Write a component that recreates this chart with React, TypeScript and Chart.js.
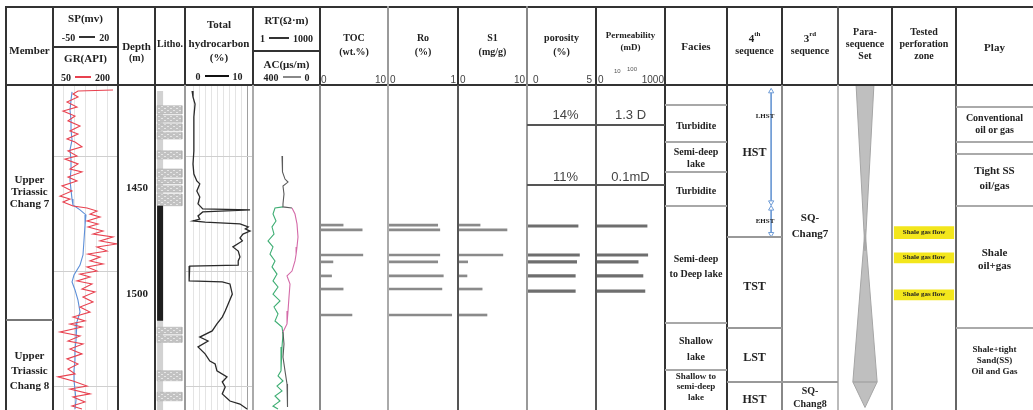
import React, { useEffect, useRef } from "react";
import { Chart, registerables } from "chart.js";

Chart.register(...registerables);

// ---------- depth frame (m) ----------
const DEPTH_TOP = 1407.4;
const DEPTH_BASE = 1548.7;
const DEPTH_TICKS = [1450, 1500];
const DEPTH_GRID = [1438.3, 1488.3, 1538.3];

// ---------- GR (API) ----------
const GR_DEPTH = [1409.6, 1410.0, 1411.3, 1412.6, 1414.8, 1417.0, 1418.7, 1420.9, 1423.0, 1425.2, 1427.4, 1428.7, 1430.9, 1432.2, 1434.3, 1436.1, 1438.3, 1439.6, 1441.7, 1443.9, 1445.2, 1447.4, 1449.1, 1451.3, 1453.5, 1455.7, 1457.0, 1458.3, 1460.0, 1460.9, 1462.2, 1463.5, 1464.8, 1466.5, 1467.8, 1469.1, 1470.9, 1472.2, 1473.5, 1475.2, 1476.5, 1477.8, 1479.6, 1480.9, 1482.2, 1483.9, 1485.2, 1486.5, 1488.3, 1489.6, 1490.9, 1492.6, 1493.9, 1496.1, 1497.4, 1499.6, 1501.7, 1503.9, 1506.1, 1508.3, 1510.0, 1511.3, 1512.6, 1514.8, 1516.5, 1518.7, 1520.0, 1522.2, 1524.3, 1526.5, 1528.7, 1530.9, 1533.0, 1534.3, 1536.1, 1538.3, 1539.6, 1541.7, 1543.0, 1545.2, 1547.0, 1548.3];
const GR_API = [188.5, 107.7, 96.2, 107.7, 82.3, 105.4, 73.1, 100.8, 84.6, 112.3, 89.2, 107.7, 82.3, 100.8, 116.9, 84.6, 105.4, 77.7, 107.7, 89.2, 116.9, 84.6, 105.4, 70.8, 93.8, 66.2, 89.2, 73.1, 96.2, 128.5, 151.5, 135.4, 158.5, 128.5, 153.8, 130.8, 165.4, 142.3, 188.5, 158.5, 197.7, 151.5, 174.6, 130.8, 158.5, 135.4, 165.4, 128.5, 151.5, 112.3, 135.4, 105.4, 140.0, 116.9, 146.9, 119.2, 142.3, 112.3, 135.4, 96.2, 123.8, 89.2, 116.9, 66.2, 112.3, 84.6, 119.2, 89.2, 116.9, 82.3, 107.7, 84.6, 100.8, 61.5, 96.2, 128.5, 89.2, 135.4, 96.2, 123.8, 93.8, 116.9];

// ---------- SP (mV) ----------
const SP_DEPTH = [1410.4, 1414.0, 1418.3, 1422.6, 1427.0, 1431.3, 1435.7, 1440.0, 1444.3, 1448.7, 1453.0, 1457.0, 1459.6, 1461.7, 1463.9, 1468.3, 1474.8, 1481.3, 1485.7, 1490.0, 1493.0, 1496.5, 1500.9, 1506.1, 1510.4, 1514.8, 1518.3, 1522.6, 1527.0, 1531.3, 1535.7, 1540.0, 1544.3, 1548.3];
const SP_MV = [-29.5, -30.6, -31.7, -30.6, -30.6, -29.5, -31.7, -30.6, -30.6, -31.7, -30.6, -29.5, -28.5, -20.9, -14.5, -15.5, -16.6, -17.7, -20.9, -27.4, -29.5, -26.3, -23.1, -20.9, -24.2, -25.2, -25.2, -26.3, -26.3, -27.4, -27.4, -26.3, -25.2, -26.3];

// ---------- total hydrocarbon (%) ----------
const TH_DEPTH = [1410.0, 1412.6, 1415.7, 1421.3, 1428.7, 1436.1, 1441.7, 1446.1, 1449.1, 1450.4, 1453.5, 1456.1, 1459.1, 1461.3, 1461.7, 1462.6, 1464.3, 1465.7, 1466.5, 1467.0, 1467.8, 1469.1, 1470.0, 1470.9, 1472.2, 1473.9, 1475.2, 1477.8, 1479.6, 1482.2, 1483.9, 1485.7, 1486.1, 1488.7, 1492.6, 1493.0, 1493.9, 1498.3, 1502.6, 1505.7, 1508.3, 1511.3, 1514.3, 1517.0, 1518.7, 1521.3, 1524.3, 1527.4, 1528.7, 1531.7, 1534.3, 1536.5, 1538.7, 1541.7, 1544.8, 1546.1, 1548.3];
const TH_PCT = [0.7, 0.85, 1.2, 1.0, 1.0, 1.0, 0.85, 1.0, 1.5, 2.0, 1.5, 2.0, 1.7, 2.5, 10.5, 2.5, 1.7, 2.0, 0.85, 2.9, 8.8, 10.2, 9.7, 10.5, 9.3, 8.8, 9.2, 7.6, 8.5, 8.8, 8.5, 8.5, 0.3, 0.2, 0.2, 5.8, 7.1, 7.5, 6.8, 6.3, 5.8, 4.9, 4.1, 2.0, 3.4, 1.7, 2.9, 3.7, 4.6, 4.9, 6.6, 5.8, 6.3, 5.8, 7.1, 8.8, 10.0];

// ---------- RT (ohm·m) ----------
const RT_DEPTH = [1438.3, 1441.7, 1445.2, 1448.3, 1449.6, 1451.3, 1454.8, 1459.1, 1460.4, 1460.9, 1463.5, 1467.8, 1470.5, 1473.5, 1477.8, 1481.0, 1483.9, 1488.3, 1490.4, 1493.9, 1499.6, 1505.7, 1511.3, 1514.8, 1520.0, 1525.7, 1531.7, 1537.4, 1543.0, 1547.4];
const RT_OHMM = [19.9, 22.0, 19.9, 27.1, 36.9, 22.0, 24.4, 22.0, 22.0, 55.7, 76.0, 93.3, 98.0, 103.5, 93.3, 85.0, 76.0, 55.7, 33.3, 45.4, 40.9, 36.9, 33.3, 22.0, 24.4, 22.0, 27.1, 33.3, 33.3, 36.9];

// ---------- AC (us/m) ----------
const AC_DEPTH = [1460.4, 1460.9, 1463.5, 1466.5, 1469.1, 1472.2, 1475.2, 1477.8, 1480.9, 1483.9, 1486.5, 1489.6, 1492.6, 1495.2, 1498.3, 1501.3, 1503.9, 1506.9, 1510.0, 1512.6, 1515.7, 1521.3, 1527.4, 1531.7, 1533.9, 1536.1, 1538.3, 1540.4, 1542.6, 1544.8, 1547.0, 1548.3];
const AC_USM = [220.9, 268.7, 280.6, 262.7, 286.6, 274.6, 310.4, 280.6, 298.5, 268.7, 286.6, 256.7, 280.6, 250.7, 280.6, 238.8, 274.6, 250.7, 268.7, 226.9, 220.9, 226.9, 232.8, 232.8, 250.7, 220.9, 256.7, 226.9, 268.7, 238.8, 280.6, 250.7];

// ---------- core analyses ----------
const CORE_DEPTH = [1468.3, 1470.4, 1481.3, 1484.3, 1490.4, 1496.1, 1507.4];
const TOC_WT = [3.4, 6.2, 6.3, 1.9, 1.7, 3.4, 4.7];
const RO_PCT = [0.71, 0.74, 0.74, 0.71, 0.79, 0.77, 0.91];
const S1_MGG = [3.2, 7.1, 6.5, 1.4, 1.3, 3.5, 4.2];
const PORE_DEPTH = [1468.7, 1481.3, 1484.3, 1490.4, 1497.0];
const POROSITY = [3.7, 3.8, 3.6, 3.5, 3.5];
const PERM_MD = [166, 178, 68, 110, 134];

// ---------- lithology intervals (m) ----------
const MUD_TOP = [1410.0];
const MUD_BASE = [1548.7];
const SAND_TOP = [1416.4, 1420.7, 1424.3, 1428.0, 1436.0, 1443.9, 1448.3, 1451.2, 1454.8, 1512.7, 1516.4, 1531.6, 1541.0];
const SAND_BASE = [1420.0, 1423.6, 1427.3, 1430.9, 1439.6, 1447.5, 1450.4, 1454.0, 1459.9, 1515.7, 1519.3, 1536.0, 1544.7];
const SHALE_TOP = [1459.9];
const SHALE_BASE = [1509.9];

// ---------- parasequence sets (half widths) ----------
const PARA_TOP = [1407.4, 1470.0, 1536.5];
const PARA_BASE = [1479.5, 1536.5, 1547.6];
const PARA_TOP_W = [0.33, 0.0, 0.45];
const PARA_BASE_W = [0.0, 0.45, 0.0];

// ---------- 4th-order systems tract arrows ----------
const ARROW_TOP = [1408.0, 1460.6];
const ARROW_BASE = [1457.8, 1472.0];

// ---------- perforation tests ----------
const PERF_TOP = [1468.8, 1480.2, 1496.3];
const PERF_BASE = [1474.4, 1484.9, 1501.0];

const BODY_TOP = 85;
const BODY_H = 325;
const SERIF = '"Liberation Serif", "Times New Roman", serif';
const SANS = '"Liberation Sans", Arial, sans-serif';

const pts = (ys: number[], xs: number[]) => ys.map((y, i) => ({ x: xs[i], y }));
const rect = (top: number, base: number, x0: number, x1: number) => [
  { x: x0, y: top }, { x: x1, y: top }, { x: x1, y: base }, { x: x0, y: base }, { x: x0, y: top },
];

function baseOptions(scales: any, extra: any = {}) {
  return {
    responsive: false,
    animation: false,
    events: [],
    layout: { padding: 0 },
    plugins: { legend: { display: false }, tooltip: { enabled: false } },
    scales,
    ...extra,
  };
}

function depthAxis(grid?: number[], color = "#cfcfcf") {
  return {
    type: "linear",
    min: DEPTH_TOP,
    max: DEPTH_BASE,
    reverse: true,
    offset: false,
    position: "left",
    display: !!grid,
    afterFit: (s: any) => { s.width = 0; },
    afterBuildTicks: (s: any) => { if (grid) s.ticks = grid.map((value) => ({ value })); },
    ticks: { display: false },
    border: { display: false },
    grid: { color, drawTicks: false, offset: false },
  };
}

function gridXAxis(min: number, max: number, step: number, color: any) {
  return {
    type: "linear",
    min,
    max,
    position: "top",
    display: true,
    afterFit: (s: any) => { s.height = 0; },
    ticks: { display: false, stepSize: step },
    border: { display: false },
    grid: { color, drawTicks: false },
  };
}

const curve = (data: any[], color: any, axis: string, width = 1, extra: any = {}) => ({
  data, xAxisID: axis, yAxisID: "y", showLine: true, borderColor: color, borderWidth: width,
  pointRadius: 0, tension: 0, fill: false, ...extra,
});

const poly = (data: any[], bg: any, line = "rgba(0,0,0,0)", lw = 0) => ({
  data, showLine: true, fill: "shape", backgroundColor: bg, borderColor: line, borderWidth: lw,
  pointRadius: 0, tension: 0, clip: false,
});

// ---------- track charts ----------
function makeSpGr() {
  return {
    type: "scatter",
    data: {
      datasets: [
        curve(pts(GR_DEPTH, GR_API), "#e8414f", "xGR", 1.1),
        curve(pts(SP_DEPTH, SP_MV), "#5d8fd8", "xSP", 1.1),
      ],
    },
    options: baseOptions({
      xSP: { type: "linear", min: -50, max: 20, display: false },
      xGR: gridXAxis(50, 200, 25, "#e4e4e4"),
      y: depthAxis(DEPTH_GRID),
    }),
  };
}

function makeDepthLabels() {
  return {
    type: "scatter",
    data: { datasets: [] },
    options: baseOptions({
      x: { type: "linear", min: 0, max: 1, display: false },
      y: {
        type: "linear", min: DEPTH_TOP, max: DEPTH_BASE, reverse: true, position: "left", display: true,
        afterFit: (s: any) => { s.width = 36; },
        afterBuildTicks: (s: any) => { s.ticks = DEPTH_TICKS.map((value) => ({ value })); },
        ticks: {
          callback: (v: any) => String(v), color: "#222", padding: 6, crossAlign: "center",
          font: { family: SERIF, size: 11, weight: "bold" },
        },
        grid: { display: false, drawTicks: false },
        border: { display: false },
      },
    }),
  };
}

function sandPattern() {
  const c = document.createElement("canvas");
  c.width = 6;
  c.height = 4;
  const g = c.getContext("2d") as CanvasRenderingContext2D;
  g.fillStyle = "#c2c2c2";
  g.fillRect(0, 0, 6, 4);
  g.fillStyle = "#e6e6e6";
  g.fillRect(0, 1, 2, 1);
  g.fillRect(3, 3, 2, 1);
  return g.createPattern(c, "repeat");
}

function makeLitho() {
  const sand = sandPattern();
  const narrow: [number, number] = [0.7, 2.7];
  const wide: [number, number] = [0.7, 9.0];
  // Chart.js paints the first dataset last, so the top-most layer goes first.
  const sets: any[] = [];
  SHALE_TOP.forEach((t, i) => sets.push(poly(rect(t, SHALE_BASE[i], narrow[0], narrow[1]), "#1e1e1e")));
  SAND_TOP.forEach((t, i) => sets.push(poly(rect(t, SAND_BASE[i], wide[0], wide[1]), sand, "#aaa", 0.5)));
  MUD_TOP.forEach((t, i) => sets.push(poly(rect(t, MUD_BASE[i], narrow[0], narrow[1]), "#d2d2d2")));
  return {
    type: "scatter",
    data: { datasets: sets },
    options: baseOptions({ x: { type: "linear", min: 0, max: 10, display: false }, y: depthAxis() }),
  };
}

function makeHydrocarbon() {
  return {
    type: "scatter",
    data: { datasets: [curve(pts(TH_DEPTH, TH_PCT), "#2a2a2a", "x", 1.3)] },
    options: baseOptions({
      x: gridXAxis(-0.5, 11, 1, (c: any) => {
        const v = c.tick ? c.tick.value : 0;
        if (v === 10) return "#a0a0a0";
        if (v < 0 || v > 10) return "rgba(0,0,0,0)";
        return "#e4e4e4";
      }),
      y: depthAxis(DEPTH_GRID),
    }),
  };
}

function makeRtAc() {
  return {
    type: "scatter",
    data: {
      datasets: [
        curve(pts(RT_DEPTH, RT_OHMM), "#d46aa8", "xRT", 1.1, {
          segment: {
            borderColor: (c: any) => {
              const d = c.p0.parsed.y;
              return d < 1460.5 || d > 1514 ? "#5a5a5a" : "#d46aa8";
            },
          },
        }),
        curve(pts(AC_DEPTH, AC_USM), "#3fae74", "xAC", 1.1),
      ],
    },
    options: baseOptions({
      xRT: { type: "logarithmic", min: 1, max: 1000, display: false },
      xAC: { type: "linear", min: 0, max: 400, reverse: true, display: false },
      y: depthAxis(),
    }),
  };
}

function makeBars(depths: number[], values: number[], min: number, max: number, color: string, thick: number, log = false) {
  return {
    type: "bar",
    data: {
      datasets: [{
        data: depths.map((d, i) => ({ y: d, x: [log ? 1 : 0, values[i]] })),
        backgroundColor: color,
        barThickness: thick,
        borderWidth: 0,
      }],
    },
    options: baseOptions(
      { x: { type: log ? "logarithmic" : "linear", min, max, display: false }, y: depthAxis() },
      { indexAxis: "y" }
    ),
  };
}

const makeToc = () => makeBars(CORE_DEPTH, TOC_WT, 0, 10, "#8a8a8a", 2);
const makeRo = () => makeBars(CORE_DEPTH, RO_PCT, 0, 1, "#8a8a8a", 2);
const makeS1 = () => makeBars(CORE_DEPTH, S1_MGG, 0, 10, "#8a8a8a", 2);
const makePoro = () => makeBars(PORE_DEPTH, POROSITY, 0, 5, "#6e6e6e", 2.5);
const makePerm = () => makeBars(PORE_DEPTH, PERM_MD, 1, 1000, "#6e6e6e", 2.5, true);

function makeArrows() {
  const xPos = 0.87;
  return {
    type: "scatter",
    data: {
      datasets: ARROW_TOP.map((t, i) => ({
        data: [{ x: xPos, y: t }, { x: xPos, y: ARROW_BASE[i] }],
        showLine: true,
        borderColor: "#6d9bd6",
        borderWidth: 1,
        pointStyle: "triangle",
        pointRadius: 3,
        pointRotation: [0, 180],
        pointBackgroundColor: "#ffffff",
        pointBorderColor: "#6d9bd6",
        pointBorderWidth: 1,
        clip: false,
      })),
    },
    options: baseOptions({ x: { type: "linear", min: 0, max: 1, display: false }, y: depthAxis() }),
  };
}

function makePara() {
  return {
    type: "scatter",
    data: {
      datasets: PARA_TOP.map((t, i) =>
        poly(
          [
            { x: -PARA_TOP_W[i], y: t }, { x: PARA_TOP_W[i], y: t },
            { x: PARA_BASE_W[i], y: PARA_BASE[i] }, { x: -PARA_BASE_W[i], y: PARA_BASE[i] },
            { x: -PARA_TOP_W[i], y: t },
          ],
          "rgba(180,180,180,0.85)", "#a5a5a5", 1
        )
      ),
    },
    options: baseOptions({ x: { type: "linear", min: -1, max: 1, display: false }, y: depthAxis() }),
  };
}

function makePerf() {
  return {
    type: "scatter",
    data: { datasets: PERF_TOP.map((t, i) => poly(rect(t, PERF_BASE[i], 0.03, 0.97), "#f3e61c")) },
    options: baseOptions({ x: { type: "linear", min: 0, max: 1, display: false }, y: depthAxis() }),
  };
}

function Track({ left, width, make }: { left: number; width: number; make: () => any }) {
  const ref = useRef<HTMLCanvasElement>(null);
  useEffect(() => {
    const chart = new Chart(ref.current as HTMLCanvasElement, make());
    return () => chart.destroy();
  }, [make]);
  return (
    <canvas
      ref={ref}
      width={width}
      height={BODY_H}
      style={{ position: "absolute", left, top: BODY_TOP, width, height: BODY_H, display: "block" }}
    />
  );
}

// ---------- table furniture ----------
function VRule({ x, y1, y2, c = "#333", w = 2 }: any) {
  return <div style={{ position: "absolute", left: x - w / 2, top: y1, width: w, height: y2 - y1, background: c }} />;
}
function HRule({ x1, x2, y, c = "#333", w = 2 }: any) {
  return <div style={{ position: "absolute", left: x1, top: y - w / 2, width: x2 - x1, height: w, background: c }} />;
}
function Txt({ x, w, y, children, size = 11, bold = true, sans = false, color = "#222", align = "center" }: any) {
  const h = size * 1.3;
  return (
    <div
      style={{
        position: "absolute", left: x, width: w, top: y - h / 2, height: h, lineHeight: `${h}px`,
        fontSize: size, fontWeight: bold ? 700 : 400, fontFamily: sans ? SANS : SERIF, color,
        display: "flex", alignItems: "center",
        justifyContent: align === "center" ? "center" : align === "left" ? "flex-start" : "flex-end",
        whiteSpace: "nowrap",
      }}
    >
      {children}
    </div>
  );
}
function Dash({ color = "#333", w = 16 }: any) {
  return <span style={{ display: "inline-block", width: w, height: 0, borderTop: `2px solid ${color}`, margin: "0 4px" }} />;
}
const Sup = ({ children }: any) => <span style={{ fontSize: 7, position: "relative", top: -4 }}>{children}</span>;

const COLS = [6, 53, 118, 155, 185, 253, 320, 388, 458, 527, 596, 665, 727, 782, 838, 892, 956];
const HEAD_RULE = ["#333", "#333", "#333", "#333", "#333", "#333", "#333", "#9a9a9a", "#333", "#888", "#333", "#333", "#333", "#333", "#555", "#333", "#333"];
const BODY_RULE = ["#333", "#333", "#333", "#333", "#9a9a9a", "#aaa", "#8a8a8a", "#aaa", "#555", "#999", "#555", "#333", "#333", "#888", "#bbb", "#999", "#666"];

export default function App() {
  const right = 1033;
  return (
    <div style={{ position: "absolute", left: 0, top: 0, width: 1033, height: 410, background: "#fff", overflow: "hidden" }}>
      <Track left={53} width={65} make={makeSpGr} />
      <Track left={118} width={37} make={makeDepthLabels} />
      <Track left={155} width={30} make={makeLitho} />
      <Track left={185} width={68} make={makeHydrocarbon} />
      <Track left={253} width={67} make={makeRtAc} />
      <Track left={320} width={68} make={makeToc} />
      <Track left={388} width={70} make={makeRo} />
      <Track left={458} width={69} make={makeS1} />
      <Track left={527} width={69} make={makePoro} />
      <Track left={596} width={69} make={makePerm} />
      <Track left={727} width={55} make={makeArrows} />
      <Track left={838} width={54} make={makePara} />
      <Track left={892} width={64} make={makePerf} />

      {/* frame */}
      <HRule x1={5} x2={right} y={7} />
      <HRule x1={5} x2={right} y={85} />
      {COLS.map((x, i) => <VRule key={`h${x}`} x={x} y1={6} y2={85} c={HEAD_RULE[i]} />)}
      {COLS.map((x, i) => <VRule key={`b${x}`} x={x} y1={85} y2={410} c={BODY_RULE[i]} />)}
      <HRule x1={53} x2={118} y={47} />
      <HRule x1={253} x2={320} y={51} />

      {/* body partitions */}
      <HRule x1={6} x2={53} y={320} c="#777" w={1.5} />
      <HRule x1={527} x2={665} y={125} c="#555" w={1.5} />
      <HRule x1={527} x2={665} y={185} c="#555" w={1.5} />
      {[105, 142, 172, 206, 323, 370].map((y) => <HRule key={`f${y}`} x1={665} x2={727} y={y} c="#a8a8a8" w={1.5} />)}
      {[237, 328, 382].map((y) => <HRule key={`s4${y}`} x1={727} x2={782} y={y} c="#999" w={1.5} />)}
      <HRule x1={782} x2={838} y={382} c="#999" w={1.5} />
      {[107, 142, 154, 206, 328].map((y) => <HRule key={`p${y}`} x1={956} x2={right} y={y} c="#aaa" w={1.5} />)}

      {/* header text */}
      <Txt x={6} w={47} y={50}>Member</Txt>
      <Txt x={53} w={65} y={18}>SP(mv)</Txt>
      <Txt x={53} w={65} y={37} size={10}>-50<Dash />20</Txt>
      <Txt x={53} w={65} y={58}>GR(API)</Txt>
      <Txt x={53} w={65} y={77} size={10}>50<Dash color="#e8414f" />200</Txt>
      <Txt x={118} w={37} y={46}>Depth</Txt>
      <Txt x={118} w={37} y={57} size={10}>(m)</Txt>
      <Txt x={155} w={30} y={43} size={10}>Litho.</Txt>
      <Txt x={185} w={68} y={24}>Total</Txt>
      <Txt x={185} w={68} y={43}>hydrocarbon</Txt>
      <Txt x={185} w={68} y={57}>(%)</Txt>
      <Txt x={185} w={68} y={76} size={10}>0<Dash color="#111" w={24} />10</Txt>
      <Txt x={253} w={67} y={20}>RT(Ω·m)</Txt>
      <Txt x={253} w={67} y={38} size={10}>1<Dash w={20} />1000</Txt>
      <Txt x={253} w={67} y={64}>AC(μs/m)</Txt>
      <Txt x={253} w={67} y={77} size={10}>400<Dash color="#888" w={18} />0</Txt>

      <Txt x={320} w={68} y={37} size={10}>TOC</Txt>
      <Txt x={320} w={68} y={51} size={10}>(wt.%)</Txt>
      <Txt x={388} w={70} y={37} size={10}>Ro</Txt>
      <Txt x={388} w={70} y={51} size={10}>(%)</Txt>
      <Txt x={458} w={69} y={37} size={10}>S1</Txt>
      <Txt x={458} w={69} y={51} size={10}>(mg/g)</Txt>
      <Txt x={527} w={69} y={37} size={10}>porosity</Txt>
      <Txt x={527} w={69} y={51} size={10}>(%)</Txt>
      <Txt x={596} w={69} y={36} size={9}>Permeability</Txt>
      <Txt x={596} w={69} y={48} size={9}>(mD)</Txt>

      <Txt x={321} w={20} y={79} size={10} bold={false} sans align="left" color="#444">0</Txt>
      <Txt x={356} w={30} y={79} size={10} bold={false} sans align="right" color="#444">10</Txt>
      <Txt x={390} w={20} y={79} size={10} bold={false} sans align="left" color="#444">0</Txt>
      <Txt x={436} w={20} y={79} size={10} bold={false} sans align="right" color="#444">1</Txt>
      <Txt x={460} w={20} y={79} size={10} bold={false} sans align="left" color="#444">0</Txt>
      <Txt x={495} w={30} y={79} size={10} bold={false} sans align="right" color="#444">10</Txt>
      <Txt x={533} w={20} y={79} size={10} bold={false} sans align="left" color="#444">0</Txt>
      <Txt x={572} w={20} y={79} size={10} bold={false} sans align="right" color="#444">5</Txt>
      <Txt x={598} w={20} y={79} size={10} bold={false} sans align="left" color="#444">0</Txt>
      <Txt x={614} w={12} y={72} size={6} bold={false} sans align="left" color="#555">10</Txt>
      <Txt x={627} w={16} y={70} size={6} bold={false} sans align="left" color="#555">100</Txt>
      <Txt x={634} w={30} y={79} size={10} bold={false} sans align="right" color="#444">1000</Txt>

      <Txt x={665} w={62} y={46}>Facies</Txt>
      <Txt x={727} w={55} y={38}>4<Sup>th</Sup></Txt>
      <Txt x={727} w={55} y={50} size={10}>sequence</Txt>
      <Txt x={782} w={56} y={38}>3<Sup>rd</Sup></Txt>
      <Txt x={782} w={56} y={50} size={10}>sequence</Txt>
      <Txt x={838} w={54} y={31} size={10}>Para-</Txt>
      <Txt x={838} w={54} y={43} size={10}>sequence</Txt>
      <Txt x={838} w={54} y={55} size={10}>Set</Txt>
      <Txt x={892} w={64} y={31} size={10}>Tested</Txt>
      <Txt x={892} w={64} y={43} size={10}>perforation</Txt>
      <Txt x={892} w={64} y={55} size={10}>zone</Txt>
      <Txt x={956} w={77} y={47}>Play</Txt>

      {/* body text */}
      <Txt x={6} w={47} y={179}>Upper</Txt>
      <Txt x={6} w={47} y={191}>Triassic</Txt>
      <Txt x={6} w={47} y={203}>Chang 7</Txt>
      <Txt x={6} w={47} y={355}>Upper</Txt>
      <Txt x={6} w={47} y={370}>Triassic</Txt>
      <Txt x={6} w={47} y={385}>Chang 8</Txt>

      <Txt x={531} w={69} y={115} size={13} bold={false} sans color="#444">14%</Txt>
      <Txt x={596} w={69} y={115} size={13} bold={false} sans color="#444">1.3 D</Txt>
      <Txt x={531} w={69} y={177} size={13} bold={false} sans color="#444">11%</Txt>
      <Txt x={596} w={69} y={177} size={13} bold={false} sans color="#444">0.1mD</Txt>

      <Txt x={665} w={62} y={125} size={10}>Turbidite</Txt>
      <Txt x={665} w={62} y={151} size={10}>Semi-deep</Txt>
      <Txt x={665} w={62} y={163} size={10}>lake</Txt>
      <Txt x={665} w={62} y={190} size={10}>Turbidite</Txt>
      <Txt x={665} w={62} y={258} size={10}>Semi-deep</Txt>
      <Txt x={665} w={62} y={273} size={10}>to Deep lake</Txt>
      <Txt x={665} w={62} y={340} size={10}>Shallow</Txt>
      <Txt x={665} w={62} y={356} size={10}>lake</Txt>
      <Txt x={665} w={62} y={377} size={9}>Shallow to</Txt>
      <Txt x={665} w={62} y={387} size={9}>semi-deep</Txt>
      <Txt x={665} w={62} y={398} size={9}>lake</Txt>

      <Txt x={727} w={55} y={153} size={12}>HST</Txt>
      <Txt x={727} w={55} y={287} size={12}>TST</Txt>
      <Txt x={727} w={55} y={358} size={12}>LST</Txt>
      <Txt x={727} w={55} y={400} size={12}>HST</Txt>
      <Txt x={752} w={26} y={117} size={7}>LHST</Txt>
      <Txt x={752} w={26} y={222} size={7}>EHST</Txt>

      <Txt x={782} w={56} y={217}>SQ-</Txt>
      <Txt x={782} w={56} y={233}>Chang7</Txt>
      <Txt x={782} w={56} y={390} size={10}>SQ-</Txt>
      <Txt x={782} w={56} y={403} size={10}>Chang8</Txt>

      <Txt x={894} w={60} y={233} size={7}>Shale gas flow</Txt>
      <Txt x={894} w={60} y={258} size={7}>Shale gas flow</Txt>
      <Txt x={894} w={60} y={295} size={7}>Shale gas flow</Txt>

      <Txt x={956} w={77} y={117} size={10}>Conventional</Txt>
      <Txt x={956} w={77} y={129} size={10}>oil or gas</Txt>
      <Txt x={956} w={77} y={170}>Tight SS</Txt>
      <Txt x={956} w={77} y={185}>oil/gas</Txt>
      <Txt x={956} w={77} y={252}>Shale</Txt>
      <Txt x={956} w={77} y={265}>oil+gas</Txt>
      <Txt x={956} w={77} y={350} size={9}>Shale+tight</Txt>
      <Txt x={956} w={77} y={361} size={9}>Sand(SS)</Txt>
      <Txt x={956} w={77} y={372} size={9}>Oil and Gas</Txt>
    </div>
  );
}
